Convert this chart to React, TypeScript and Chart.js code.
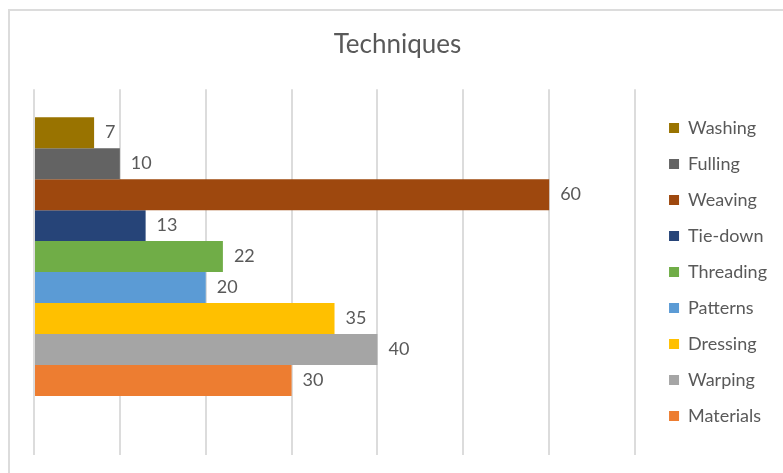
import React, { useEffect, useRef } from 'react';
import { Chart, registerables } from 'chart.js';

Chart.register(...registerables);

const categories = ['Techniques'];
const seriesNames = ['Washing', 'Fulling', 'Weaving', 'Tie-down', 'Threading', 'Patterns', 'Dressing', 'Warping', 'Materials'];
const seriesValues = [7, 10, 60, 13, 22, 20, 35, 40, 30];
const seriesColors = ['#997300', '#636363', '#9e480e', '#264478', '#70ad47', '#5b9bd5', '#ffc000', '#a5a5a5', '#ed7d31'];
const axisMin = 0;
const axisMax = 70;
const axisStep = 10;
const chartTitle = 'Techniques';

const TEXT_COLOR = '#595959';
const FONT = "Lato, 'Open Sans', sans-serif";

const valueLabels = {
  id: 'valueLabels',
  afterDatasetsDraw(chart: any) {
    const ctx = chart.ctx;
    ctx.save();
    ctx.font = `18px ${FONT}`;
    ctx.fillStyle = TEXT_COLOR;
    ctx.textBaseline = 'middle';
    ctx.textAlign = 'left';
    chart.data.datasets.forEach((ds: any, i: number) => {
      if (!ds.label) return;
      const meta = chart.getDatasetMeta(i);
      meta.data.forEach((el: any, j: number) => {
        const v = ds.data[j];
        if (v == null) return;
        ctx.fillText(String(v), el.x + 11, el.y);
      });
    });
    ctx.restore();
  },
};

export default function App() {
  const ref = useRef<HTMLCanvasElement | null>(null);

  useEffect(() => {
    if (!ref.current) return;
    Chart.defaults.font.family = FONT;
    const datasets: any[] = seriesNames.map((name, i) => ({
      label: name,
      data: [seriesValues[i]],
      backgroundColor: seriesColors[i],
      borderWidth: 0,
      categoryPercentage: 310 / 366,
      barPercentage: 1,
    }));
    // empty spacer slot below the last bar (Excel leaves one bar-width gap there)
    datasets.push({
      label: '',
      data: [null],
      backgroundColor: 'rgba(0,0,0,0)',
      borderWidth: 0,
      categoryPercentage: 310 / 366,
      barPercentage: 1,
    });

    const chart = new Chart(ref.current, {
      type: 'bar',
      data: { labels: categories, datasets },
      options: {
        indexAxis: 'y',
        responsive: false,
        animation: false,
        devicePixelRatio: 1,
        layout: { padding: { left: 18, right: 6, top: 0, bottom: 18 } },
        plugins: {
          title: {
            display: true,
            text: chartTitle,
            color: TEXT_COLOR,
            font: { size: 26, weight: 'normal', family: FONT },
            padding: { top: 29, bottom: 29 },
          },
          legend: {
            position: 'right',
            fullSize: false,
            labels: {
              boxWidth: 10,
              boxHeight: 10,
              padding: 18,
              color: TEXT_COLOR,
              font: { size: 18, family: FONT },
              filter: (item: any) => item.text !== '',
            },
          },
          tooltip: { enabled: false },
        },
        scales: {
          x: {
            type: 'linear',
            min: axisMin,
            max: axisMax,
            ticks: { display: false, stepSize: axisStep },
            grid: { color: '#dcdcdc', lineWidth: 2, drawTicks: false },
            border: { display: false },
          },
          y: {
            type: 'category',
            position: 'left',
            ticks: { display: false },
            grid: { display: false, drawTicks: false },
            border: { display: false },
            afterFit: (s: any) => { s.width = 16; },
          },
          y2: {
            type: 'category',
            position: 'right',
            ticks: { display: false },
            grid: { display: false, drawTicks: false },
            border: { display: false },
            afterFit: (s: any) => { s.width = 16; },
          },
        },
      } as any,
      plugins: [valueLabels],
    });
    return () => chart.destroy();
  }, []);

  return (
    <div style={{ position: 'fixed', left: 0, top: 0, width: 783, height: 473, overflow: 'hidden', background: '#fff' }}>
      <div
        style={{
          position: 'absolute',
          left: 8,
          top: 9,
          width: 900,
          height: 600,
          borderLeft: '2px solid #dcdcdc',
          borderTop: '2px solid #dcdcdc',
        }}
      />
      <canvas ref={ref} width={783} height={473} style={{ position: 'absolute', left: 0, top: 0, width: 783, height: 473 }} />
    </div>
  );
}
